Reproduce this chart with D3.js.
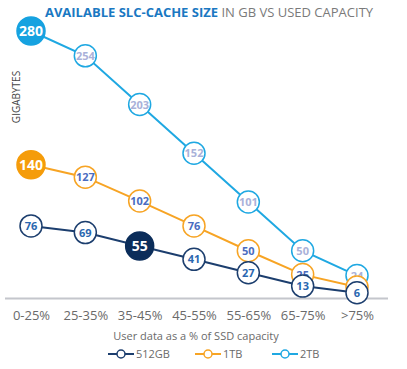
<!DOCTYPE html>
<html><head><meta charset="utf-8">
<script src="https://cdn.jsdelivr.net/npm/d3@7"></script>
<style>body{margin:0;background:#fff}svg{display:block}text{font-family:"Open Sans","Noto Sans",sans-serif}</style>
</head><body><svg id="c" width="407" height="369"></svg>
<script>
const categories = ["0-25%","25-35%","35-45%","45-55%","55-65%","65-75%",">75%"];
const s512 = [76,69,55,41,27,13,6];
const s1tb = [140,127,102,76,50,25,12];
const s2tb = [280,254,203,152,101,50,24];
const seriesNames = ["512GB","1TB","2TB"];
const highlight = [2,0,0]; // index of the filled point per series

const series = [
  {name:seriesNames[0], values:s512, color:"#1c3e6e", fill:"#0b2d5a", label:"#2a67b0"},
  {name:seriesNames[1], values:s1tb, color:"#f7a424", fill:"#f59c0a", label:"#4a6cc0"},
  {name:seriesNames[2], values:s2tb, color:"#1fa8e2", fill:"#16a2e0", label:"#a9b1d9"}
];

const svg = d3.select("#c");
const x = d3.scalePoint().domain(categories).range([31,357]);
const y = d3.scaleLinear().domain([0,280]).range([298.5,31]);

// title
const t = svg.append("text").attr("x",209).attr("y",17).attr("text-anchor","middle").style("font-size","13px");
t.append("tspan").attr("fill","#1a78c2").attr("font-weight","bold").text("AVAILABLE SLC-CACHE SIZE");
t.append("tspan").attr("fill","#7a7a7a").text(" IN GB VS USED CAPACITY");

// y label
svg.append("text").attr("transform","translate(20,97) rotate(-90)").attr("text-anchor","middle")
  .attr("fill","#444").style("font-size","10px").text("GIGABYTES");

// axis
const xAxis = d3.axisBottom(x).tickSize(0).tickPadding(12);
const ag = svg.append("g").attr("transform","translate(0,298.5)").call(xAxis);
ag.select(".domain").remove();
ag.append("line").attr("x1",5).attr("x2",388).attr("stroke","#c4c6cc").attr("stroke-width",2);
ag.selectAll(".tick text").attr("fill","#6a6a6a").style("font-size","13px").style("font-family","'Open Sans','Noto Sans',sans-serif");

svg.append("text").attr("x",196).attr("y",340).attr("text-anchor","middle").attr("fill","#6a6a6a")
  .style("font-size","11px").text("User data as a % of SSD capacity");

const line = d3.line().x((d,i)=>x(categories[i])).y(d=>y(d));

// draw series: 2TB, 1TB, 512GB order
[2,1,0].forEach(si=>{
  const s = series[si];
  svg.append("path").attr("d",line(s.values)).attr("fill","none").attr("stroke",s.color).attr("stroke-width",2);
});
[2,1,0].forEach(si=>{
  const s = series[si];
  const g = svg.append("g");
  s.values.forEach((v,i)=>{
    const hi = i===highlight[si];
    g.append("circle").attr("cx",x(categories[i])).attr("cy",y(v)).attr("r",hi?14:11)
      .attr("fill",hi?s.fill:"#fff").attr("stroke",hi?s.fill:s.color).attr("stroke-width",1.5);
    g.append("text").attr("x",x(categories[i])).attr("y",y(v)).attr("dy","0.36em").attr("text-anchor","middle")
      .attr("fill",hi?"#fff":s.label).attr("font-weight","bold").style("font-size",hi?"14px":"11px").text(v);
  });
});

// legend
const legX = [108,195,272];
series.forEach((s,i)=>{
  const g = svg.append("g").attr("transform",`translate(${legX[i]},354)`);
  g.append("line").attr("x1",0).attr("x2",26).attr("stroke",s.color).attr("stroke-width",2);
  g.append("circle").attr("cx",13).attr("r",4).attr("fill","#fff").attr("stroke",s.color).attr("stroke-width",1.5);
  g.append("text").attr("x",28).attr("dy","0.35em").attr("fill","#6a6a6a").style("font-size","11px").text(s.name);
});
</script></body></html>
